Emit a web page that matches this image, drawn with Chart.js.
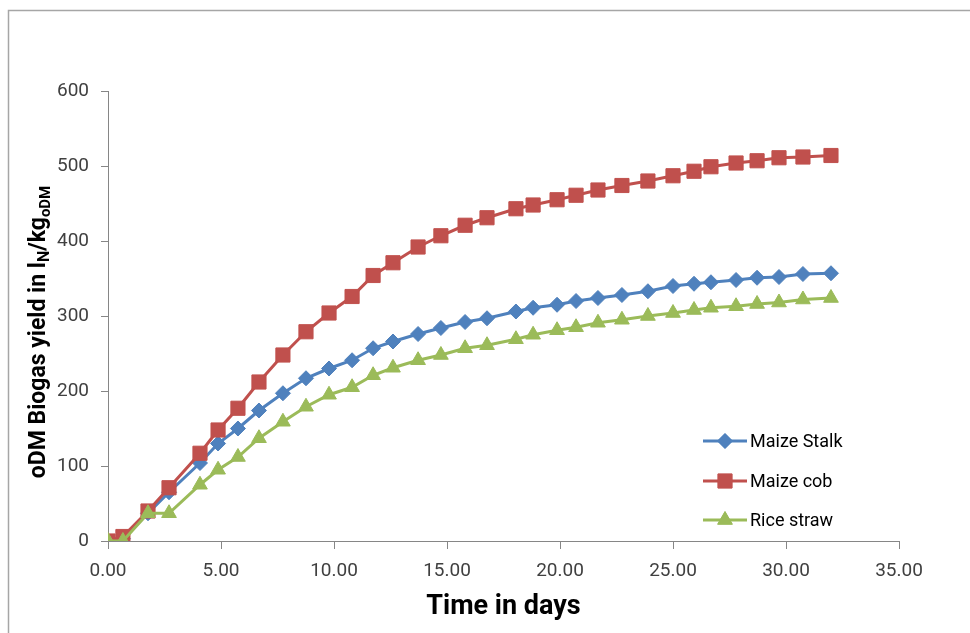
<!DOCTYPE html>
<html>
<head>
<meta charset="utf-8">
<script src="https://cdn.jsdelivr.net/npm/chart.js@4/dist/chart.umd.min.js"></script>
<style>
  html, body { margin: 0; padding: 0; background: #fff; }
  #wrap { width: 970px; height: 633px; }
</style>
</head>
<body>
<div id="wrap"><canvas id="chart_biogas" width="970" height="633"></canvas></div>
<script>
// time in days (same for all three series)
var days = [0, 0.66, 1.77, 2.70, 4.07, 4.87, 5.75, 6.68, 7.74, 8.76, 9.78, 10.80, 11.73, 12.61, 13.72, 14.73,
    15.80, 16.77, 18.05, 18.81, 19.87, 20.71, 21.68, 22.74, 23.89, 25.00, 25.93, 26.68, 27.79, 28.72, 29.69, 30.75, 31.99];

var maize_stalk = [0, 3, 37, 65, 104, 130, 150, 174, 197, 217, 230, 241, 257, 266, 276, 284,
    292, 297, 306, 311, 315, 320, 324, 328, 333, 340, 343, 345, 348, 351, 352, 356, 357];
var maize_cob = [0, 6, 40, 71, 117, 148, 177, 212, 248, 279, 304, 326, 354, 371, 392, 407,
    421, 431, 443, 448, 455, 461, 468, 474, 480, 487, 493, 499, 504, 507, 511, 512, 514];
var rice_straw = [0, 0, 37, 37, 75, 95, 112, 137, 159, 179, 195, 205, 221, 231, 241, 248,
    257, 261, 269, 275, 281, 285, 291, 295, 300, 304, 308, 311, 313, 316, 318, 322, 324];

var series_labels = ['Maize Stalk', 'Maize cob', 'Rice straw'];
var x_title = 'Time in days';

var FONT = 'Roboto, "Liberation Sans", sans-serif';
var AXIS_COLOR = '#868686';

function toPoints(values) {
    var pts = [];
    for (var i = 0; i < values.length; ++i) {
        pts.push({ x: days[i], y: values[i] });
    }
    return pts;
}

var series_style = [
    { color: '#4f81bd', style: 'rectRot', radius: 7.5, order: 3 },
    { color: '#c0504d', style: 'rect', radius: 10, order: 2 },
    { color: '#9bbb59', style: 'triangle', radius: 8.5, order: 1 }
];
var series_data = [maize_stalk, maize_cob, rice_straw];

var datasets = [];
for (var s = 0; s < series_data.length; ++s) {
    datasets.push({
        label: series_labels[s],
        data: toPoints(series_data[s]),
        showLine: true,
        borderColor: series_style[s].color,
        backgroundColor: series_style[s].color,
        borderWidth: 3,
        pointStyle: series_style[s].style,
        pointRadius: series_style[s].radius,
        pointBorderWidth: 1,
        pointHoverRadius: series_style[s].radius,
        order: series_style[s].order
    });
}

// fond alb, rama, titluri de axe si legenda in interiorul graficului
var decorPlugin = {
    id: 'decor',
    beforeDraw: function (chart) {
        var ctx = chart.ctx;
        ctx.save();
        ctx.fillStyle = '#fff';
        ctx.fillRect(0, 0, chart.width, chart.height);
        ctx.strokeStyle = '#a6a6a6';
        ctx.lineWidth = 1.5;
        ctx.beginPath();
        ctx.moveTo(8.5, chart.height);
        ctx.lineTo(8.5, 10.5);
        ctx.lineTo(chart.width, 10.5);
        ctx.stroke();
        ctx.restore();
    },
    afterDraw: function (chart) {
        var ctx = chart.ctx;
        var area = chart.chartArea;
        ctx.save();

        // x title
        ctx.fillStyle = '#000';
        ctx.font = 'bold 27px ' + FONT;
        ctx.textAlign = 'center';
        ctx.textBaseline = 'middle';
        ctx.fillText(x_title, (area.left + area.right) / 2, 607);

        // y title with subscripts
        var parts = [
            { t: 'oDM Biogas yield in l', size: 23, dy: 0 },
            { t: 'N', size: 16, dy: 4 },
            { t: '/kg', size: 23, dy: 0 },
            { t: 'oDM', size: 15, dy: 5 }
        ];
        var total = 0;
        for (var i = 0; i < parts.length; ++i) {
            ctx.font = 'bold ' + parts[i].size + 'px ' + FONT;
            parts[i].w = ctx.measureText(parts[i].t).width;
            total += parts[i].w;
        }
        ctx.translate(37, 332);
        ctx.rotate(-Math.PI / 2);
        ctx.textAlign = 'left';
        ctx.textBaseline = 'alphabetic';
        var x = -total / 2;
        for (var j = 0; j < parts.length; ++j) {
            ctx.font = 'bold ' + parts[j].size + 'px ' + FONT;
            ctx.fillText(parts[j].t, x, 8 + parts[j].dy);
            x += parts[j].w;
        }
        ctx.setTransform(1, 0, 0, 1, 0, 0);

        // legend
        var rowsY = [441, 481, 520];
        for (var k = 0; k < datasets.length; ++k) {
            var ds = datasets[k];
            var y = rowsY[k];
            ctx.strokeStyle = ds.borderColor;
            ctx.lineWidth = 3;
            ctx.beginPath();
            ctx.moveTo(703, y);
            ctx.lineTo(747, y);
            ctx.stroke();
            ctx.fillStyle = ds.backgroundColor;
            ctx.strokeStyle = ds.borderColor;
            ctx.lineWidth = 1;
            Chart.helpers.drawPoint(ctx, { pointStyle: ds.pointStyle, radius: ds.pointRadius, rotation: 0, borderWidth: 1 }, 725, y);
            ctx.fill();
            ctx.fillStyle = '#000';
            ctx.font = '18px ' + FONT;
            ctx.textAlign = 'left';
            ctx.textBaseline = 'middle';
            ctx.fillText(ds.label, 750, y + 1);
        }
        ctx.restore();
    }
};

var chart_ctx = document.getElementById('chart_biogas').getContext('2d');
var biogas_chart = new Chart(chart_ctx, {
    type: 'scatter',
    data: { datasets: datasets },
    options: {
        responsive: false,
        animation: false,
        events: [],
        layout: { padding: { left: 0, top: 91, right: 71, bottom: 0 } },
        plugins: {
            legend: { display: false },
            tooltip: { enabled: false }
        },
        scales: {
            x: {
                type: 'linear',
                min: 0,
                max: 35,
                afterFit: function (scale) { scale.height = 92; },
                border: { color: AXIS_COLOR, width: 1 },
                grid: { drawOnChartArea: false, drawTicks: true, tickLength: 8, color: AXIS_COLOR },
                ticks: {
                    stepSize: 5,
                    padding: 11,
                    color: '#404040',
                    font: { family: FONT, size: 19 },
                    maxRotation: 0,
                    callback: function (v) { return Number(v).toFixed(2); }
                }
            },
            y: {
                min: 0,
                max: 600,
                afterFit: function (scale) { scale.width = 108; },
                border: { color: AXIS_COLOR, width: 1 },
                grid: { drawOnChartArea: false, drawTicks: true, tickLength: 7, color: AXIS_COLOR },
                ticks: {
                    stepSize: 100,
                    padding: 12,
                    color: '#404040',
                    font: { family: FONT, size: 19 }
                }
            }
        }
    },
    plugins: [decorPlugin]
});
</script>
</body>
</html>
